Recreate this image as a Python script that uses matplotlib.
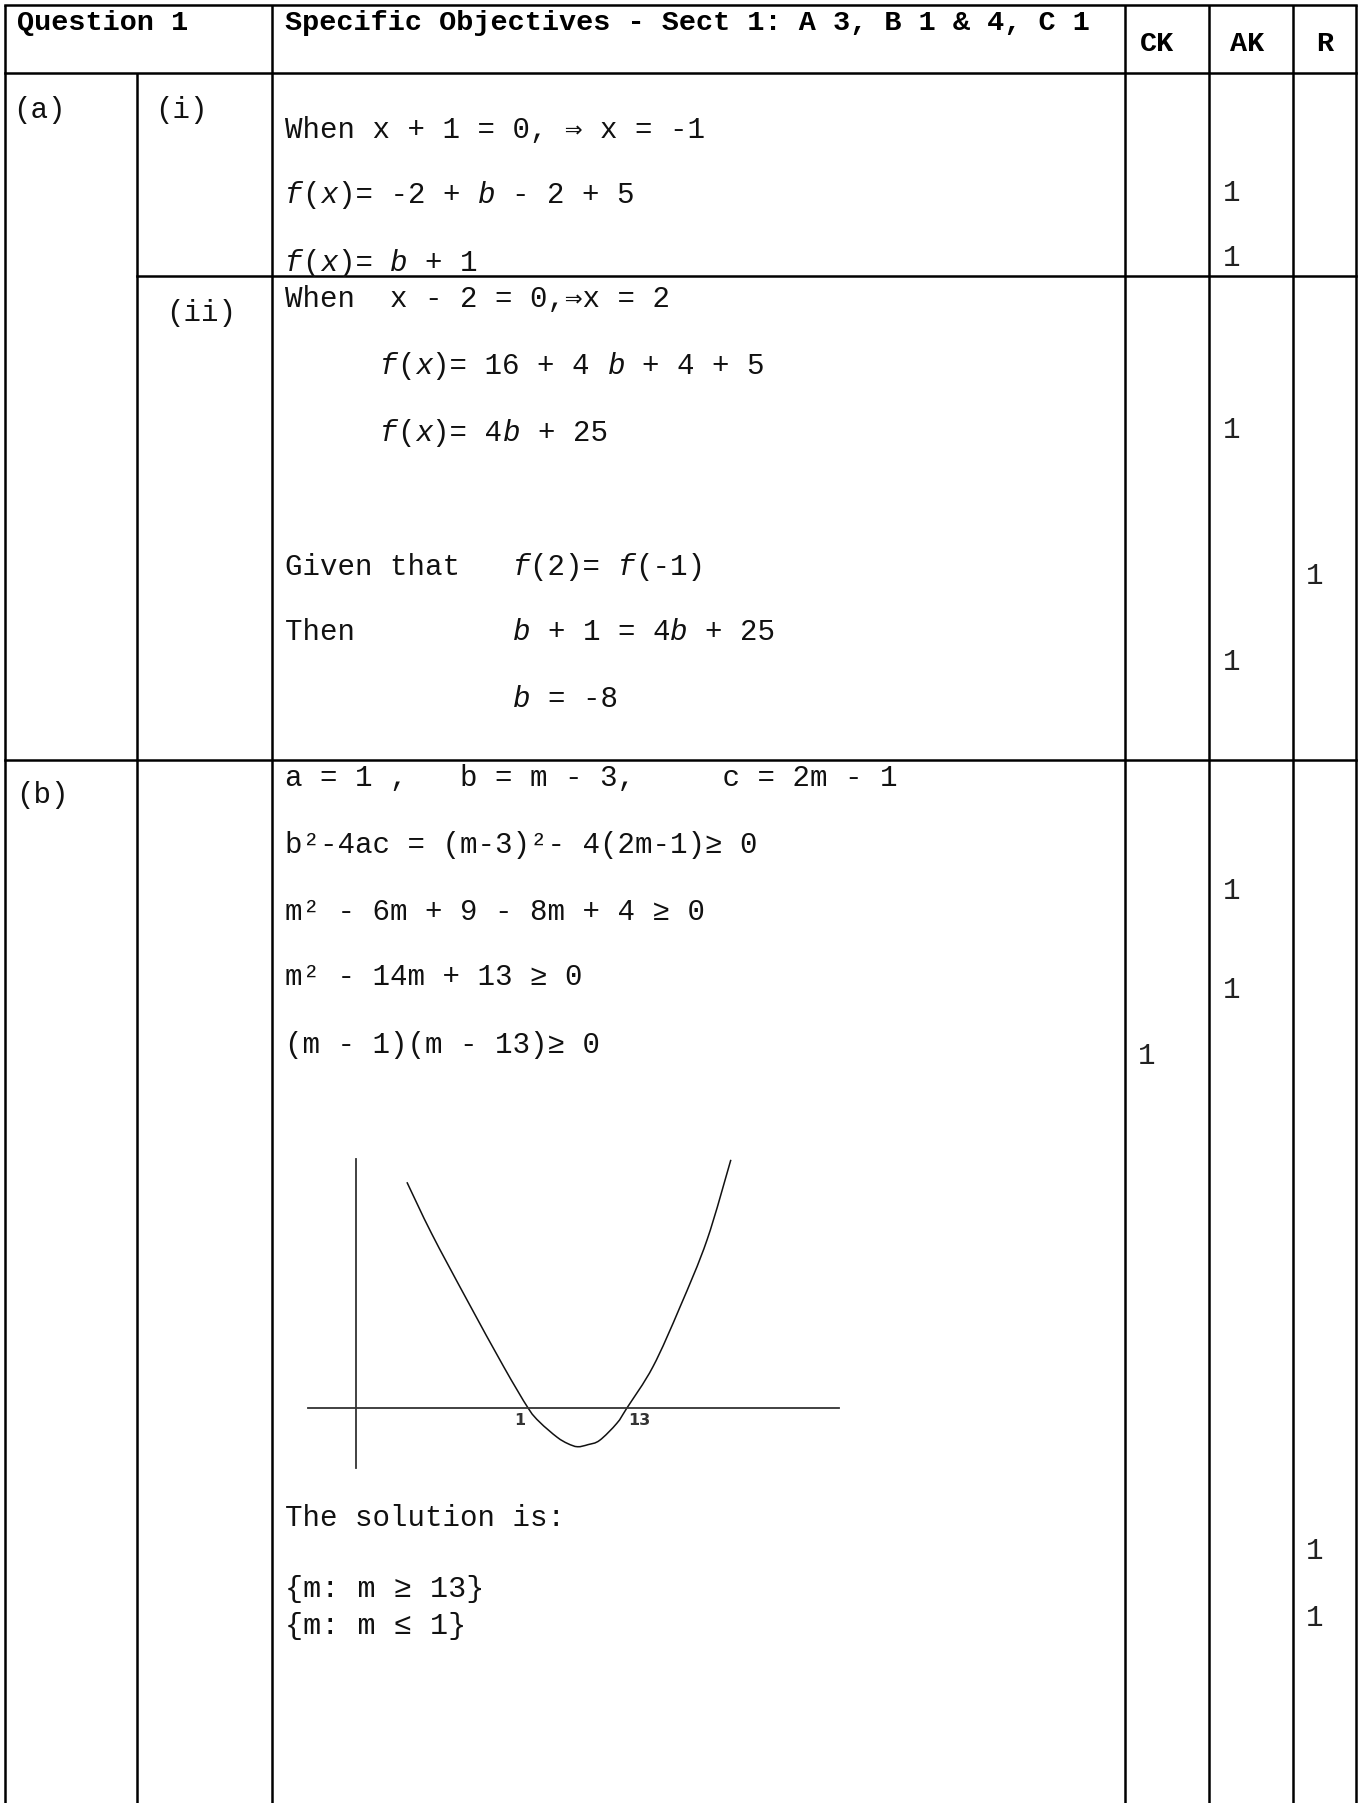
import matplotlib
matplotlib.use("Agg")
import matplotlib.pyplot as plt
from matplotlib.path import Path
from matplotlib.patches import PathPatch

# Марк-схема: Question 1 (таблица + эскиз параболы)

W, H, DPI = 1362, 1803, 100

header = ["Question 1", "Specific Objectives - Sect 1: A 3, B 1 & 4, C 1"]
score_cols = ["CK", "AK", "R"]
part_labels = ["(a)", "(i)", "(ii)", "(b)"]

# '_' отмечает курсив (f, x, b)
lines_a_i = ["When x + 1 = 0, \u21d2 x = -1",
             "_f_(_x_)= -2 + _b_ - 2 + 5",
             "_f_(_x_)= _b_ + 1"]
lines_a_ii = ["When  x - 2 = 0,\u21d2x = 2",
              "_f_(_x_)= 16 + 4 _b_ + 4 + 5",
              "_f_(_x_)= 4_b_ + 25",
              "Given that   _f_(2)= _f_(-1)",
              "Then         _b_ + 1 = 4_b_ + 25",
              "             _b_ = -8"]
lines_b = ["a = 1 ,   b = m - 3,     c = 2m - 1",
           "b\u00b2-4ac = (m-3)\u00b2- 4(2m-1)\u2265 0",
           "m\u00b2 - 6m + 9 - 8m + 4 \u2265 0",
           "m\u00b2 - 14m + 13 \u2265 0",
           "(m - 1)(m - 13)\u2265 0"]
solution_title = "The solution is:"
solution_sets = ["{m: m \u2265 13}", "{m: m \u2264 1}"]

ck_marks = [1]
ak_marks = [1, 1, 1, 1, 1, 1]
r_marks = [1, 1, 1]

# эскиз параболы (m, значение)
roots = [1, 13]
curve_m = [-13.8, -10.8, -6.5, -2.0, 1.0, 2.4, 4.5, 5.8, 7.0, 8.3, 9.7, 11.8, 13.0, 16.2, 19.5, 22.8, 25.7]
curve_v = [212, 164, 102, 39, 0, -13, -27, -33, -36, -34, -30, -14, 0, 39, 95, 158, 233]
xaxis_m = [-25.9, 38.9]
yaxis_m = -20.0
yaxis_v = [-56, 233.7]

# ---- раскладка (пиксели) ----
col_x = [5, 137, 272, 1125, 1209, 1293, 1356]
row_y = [5, 73, 276, 760]
head_x = [1157, 1247, 1325]
y_a_i = [130, 195, 263]
y_a_ii = [299, 366, 433, 567, 632, 699]
x_a_ii = [285, 380, 380, 285, 285, 285]
y_b = [778, 845, 912, 977, 1045]
y_sol = [1518, 1588, 1625]
ck_y = [1056]
ak_y = [193, 258, 430, 662, 891, 990]
r_y = [576, 1551, 1618]
mark_x = {"CK": 1147, "AK": 1232, "R": 1315}

plt.rcParams['font.family'] = ['Liberation Mono', 'DejaVu Sans Mono']

fig = plt.figure(figsize=(W / DPI, H / DPI), dpi=DPI)
ax = fig.add_axes([0, 0, 1, 1])
ax.set_xlim(0, W)
ax.set_ylim(H, 0)
ax.axis("off")

LW = 1.8
# вертикальные линии
for i, x in enumerate(col_x):
    top = row_y[1] if i == 1 else row_y[0]
    ax.plot([x, x], [top, H + 5], color="black", lw=LW, solid_capstyle="butt")
# горизонтальные линии
for i, y in enumerate(row_y):
    left = col_x[1] if i == 2 else col_x[0]
    ax.plot([left, col_x[-1]], [y, y], color="black", lw=LW, solid_capstyle="projecting")


def put(x, y, s, size=21.0, weight="normal", color="#111111"):
    adv = 0.6 * size * DPI / 72
    base = y + 0.29 * size * DPI / 72
    col = 0
    for i, part in enumerate(s.split("_")):
        stripped = part.lstrip(" ")
        lead = len(part) - len(stripped)
        if stripped:
            ax.text(x + (col + lead) * adv, base, stripped, fontsize=size,
                    fontweight=weight, fontstyle="italic" if i % 2 else "normal",
                    ha="left", va="baseline", color=color)
        col += len(part)


# шапка
put(17, 22, header[0], size=20.5, weight="bold", color="black")
put(285, 22, header[1], size=20.5, weight="bold", color="black")
for name, cx in zip(score_cols, head_x):
    ax.text(cx, 43 + 0.29 * 20.5 * DPI / 72, name, fontsize=20.5, fontweight="bold",
            ha="center", va="baseline")

# метки частей
put(13, 110, part_labels[0])
put(155, 110, part_labels[1])
put(166, 313, part_labels[2])
put(16, 795, part_labels[3])

for s, y in zip(lines_a_i, y_a_i):
    put(285, y, s)
for s, x, y in zip(lines_a_ii, x_a_ii, y_a_ii):
    put(x, y, s)
for s, y in zip(lines_b, y_b):
    put(285, y, s)
put(285, y_sol[0], solution_title)
for s, y in zip(solution_sets, y_sol[1:]):
    put(285, y, s, size=21.7)

# баллы
for name, vals, ys in [("CK", ck_marks, ck_y), ("AK", ak_marks, ak_y), ("R", r_marks, r_y)]:
    for v, y in zip(vals, ys):
        ax.text(mark_x[name], y + 0.29 * 21 * DPI / 72, str(v), fontsize=21,
                ha="center", va="baseline", color="#222222")

# эскиз
box = (300, 1150, 845, 1475)  # left, top, right, bottom (px)
sk = fig.add_axes([box[0] / W, 1 - box[3] / H, (box[2] - box[0]) / W, (box[3] - box[1]) / H])
sk.patch.set_visible(False)
sk.axis("off")
sk.set_xlim(-26.84, 39.62)
sk.set_ylim(-62.5, 242.2)
sk.plot(xaxis_m, [0, 0], color="#333333", lw=1.3)
sk.plot([yaxis_m, yaxis_m], yaxis_v, color="#333333", lw=1.3)

# гладкая кривая через снятые точки (сплайн Катмулла-Рома как кубические Безье)
pts = list(zip(curve_m, curve_v))
verts = [pts[0]]
codes = [Path.MOVETO]
for i in range(len(pts) - 1):
    p0 = pts[i - 1] if i > 0 else pts[i]
    p1, p2 = pts[i], pts[i + 1]
    p3 = pts[i + 2] if i + 2 < len(pts) else pts[i + 1]
    c1 = (p1[0] + (p2[0] - p0[0]) / 6, p1[1] + (p2[1] - p0[1]) / 6)
    c2 = (p2[0] - (p3[0] - p1[0]) / 6, p2[1] - (p3[1] - p1[1]) / 6)
    verts += [c1, c2, p2]
    codes += [Path.CURVE4] * 3
sk.add_patch(PathPatch(Path(verts, codes), fill=False, edgecolor="#111111", lw=1.1))

for r, dx in zip(roots, [-6, 9.4]):
    sk.annotate(str(r), (r, 0), xytext=(dx, -9), textcoords="offset points",
                ha="center", va="center", fontsize=11.5, fontweight="bold",
                family="DejaVu Sans", color="#333333")

fig.savefig("out.png", dpi=DPI)
